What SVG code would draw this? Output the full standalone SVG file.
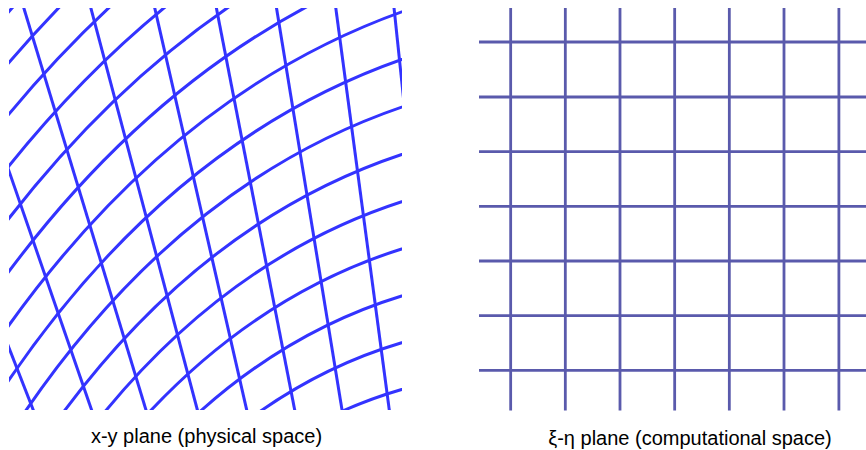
<svg xmlns="http://www.w3.org/2000/svg" width="866" height="450" viewBox="0 0 866 450">
  <style>
    .phys { fill: none; stroke: #3333ff; stroke-width: 3; }
    .comp { fill: none; stroke: #5a5aac; stroke-width: 2.8; }
    .label { font-family: "Liberation Sans", Arial, sans-serif; font-size: 20px; fill: #000000; text-anchor: middle; }
  </style>
  <defs>
    <clipPath id="physClip">
      <rect x="9" y="8" width="393" height="402"/>
    </clipPath>
  </defs>
  <rect width="866" height="450" fill="#ffffff"/>

  <g id="physical-grid" clip-path="url(#physClip)">
    <g id="physical-eta-lines">
      <path class="phys" d="M -171.24 265.56 Q 93.84 -192.09 497.17 -309.9"/>
      <path class="phys" d="M -155.3 298 Q 103.11 -151.58 499.76 -261.32"/>
      <path class="phys" d="M -139.35 330.44 Q 112.38 -111.07 502.35 -212.74"/>
      <path class="phys" d="M -123.4 362.88 Q 121.65 -70.56 504.94 -164.16"/>
      <path class="phys" d="M -107.46 395.32 Q 130.92 -30.05 507.53 -115.58"/>
      <path class="phys" d="M -91.51 427.76 Q 140.18 10.46 510.12 -67"/>
      <path class="phys" d="M -75.57 460.2 Q 149.45 50.97 512.71 -18.42"/>
      <path class="phys" d="M -59.62 492.64 Q 158.72 91.48 515.3 30.16"/>
      <path class="phys" d="M -43.67 525.08 Q 167.99 131.99 517.89 78.74"/>
      <path class="phys" d="M -27.73 557.52 Q 177.26 172.5 520.48 127.32"/>
      <path class="phys" d="M -11.78 589.96 Q 186.52 213.01 523.07 175.9"/>
      <path class="phys" d="M 4.16 622.4 Q 195.79 253.52 525.66 224.48"/>
      <path class="phys" d="M 20.11 654.84 Q 205.06 294.03 528.25 273.06"/>
      <path class="phys" d="M 36.06 687.28 Q 214.33 334.54 530.84 321.64"/>
      <path class="phys" d="M 52 719.72 Q 223.6 375.05 533.43 370.22"/>
    </g>
    <g id="physical-xi-lines">
      <line class="phys" x1="-106.48" y1="52.19" x2="140.48" y2="684.53"/>
      <line class="phys" x1="-55.27" y1="-14.98" x2="171.65" y2="641.58"/>
      <line class="phys" x1="-2.15" y1="-77.42" x2="204.75" y2="603.34"/>
      <line class="phys" x1="52.9" y1="-135.15" x2="239.76" y2="569.83"/>
      <line class="phys" x1="109.87" y1="-188.15" x2="276.69" y2="541.03"/>
      <line class="phys" x1="168.75" y1="-236.44" x2="315.55" y2="516.96"/>
      <line class="phys" x1="229.56" y1="-280" x2="356.32" y2="497.6"/>
      <line class="phys" x1="292.29" y1="-318.84" x2="399.01" y2="482.97"/>
      <line class="phys" x1="356.16" y1="-352.97" x2="442.84" y2="473.05"/>
    </g>
  </g>

  <g id="computational-grid">
    <g id="computational-xi-lines">
      <line class="comp" x1="510.67" y1="8" x2="510.67" y2="410.5"/>
      <line class="comp" x1="565.33" y1="8" x2="565.33" y2="410.5"/>
      <line class="comp" x1="620" y1="8" x2="620" y2="410.5"/>
      <line class="comp" x1="674.67" y1="8" x2="674.67" y2="410.5"/>
      <line class="comp" x1="729.33" y1="8" x2="729.33" y2="410.5"/>
      <line class="comp" x1="784" y1="8" x2="784" y2="410.5"/>
      <line class="comp" x1="838.9" y1="8" x2="838.9" y2="410.5"/>
    </g>
    <g id="computational-eta-lines">
      <line class="comp" x1="479" y1="42" x2="866" y2="42"/>
      <line class="comp" x1="479" y1="97" x2="866" y2="97"/>
      <line class="comp" x1="479" y1="151.67" x2="866" y2="151.67"/>
      <line class="comp" x1="479" y1="206.33" x2="866" y2="206.33"/>
      <line class="comp" x1="479" y1="261" x2="866" y2="261"/>
      <line class="comp" x1="479" y1="315.67" x2="866" y2="315.67"/>
      <line class="comp" x1="479" y1="370.33" x2="866" y2="370.33"/>
    </g>
  </g>

  <g id="labels">
    <text id="label-physical" class="label" x="206.5" y="443">x-y plane (physical space)</text>
    <text id="label-computational" class="label" x="690" y="445">ξ-η plane (computational space)</text>
  </g>
</svg>
